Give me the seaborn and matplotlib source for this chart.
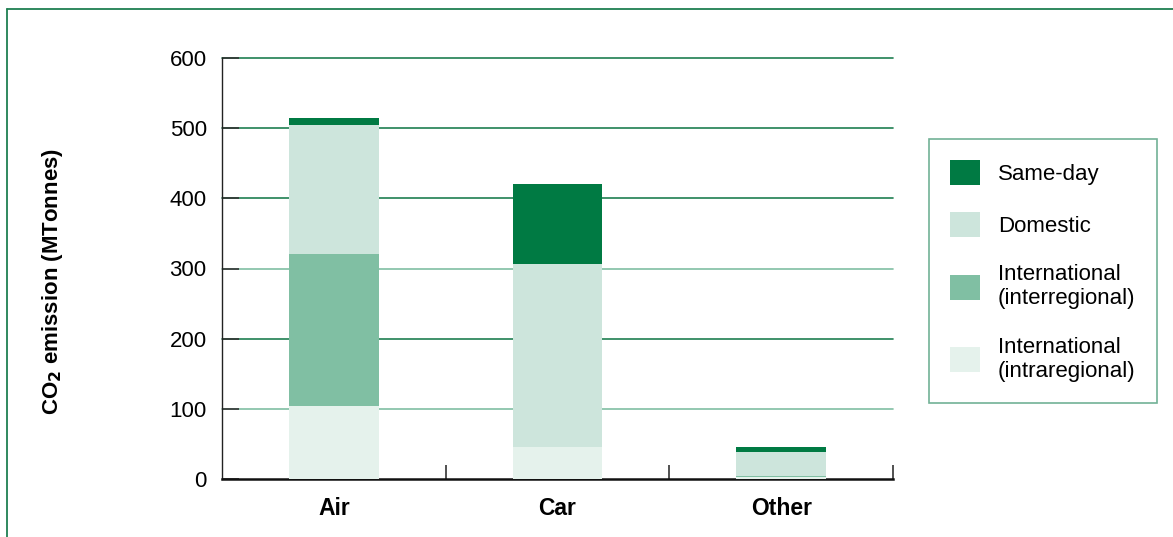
import matplotlib
matplotlib.use("Agg")
import matplotlib.pyplot as plt
from matplotlib.patches import Patch
from matplotlib.lines import Line2D
import seaborn as sns

# ----------------------------------------------------------
# Data (MTonnes CO2)
# ----------------------------------------------------------
modes = ["Air", "Car", "Other"]
intra = [104, 45, 3]       # International (intraregional)
inter = [216, 1, 1]        # International (interregional)
domestic = [184, 260, 34]  # Domestic
sameday = [10, 115, 7]     # Same-day

layers = ["Same-day", "Domestic", "International\n(interregional)",
          "International\n(intraregional)"]
colors = ["#007a43", "#cde5dc", "#80bfa3", "#e5f2ec"]
yticks = [0, 100, 200, 300, 400, 500, 600]

sns.set_theme(style="white")
plt.rcParams["font.family"] = ["Liberation Sans", "DejaVu Sans"]
plt.rcParams["text.color"] = "black"
plt.rcParams["axes.labelcolor"] = "black"
plt.rcParams["xtick.color"] = "black"
plt.rcParams["ytick.color"] = "black"

fig = plt.figure(figsize=(11.73, 5.37), dpi=100)
ax = fig.add_axes([222 / 1173, 1 - 479 / 537, (893 - 222) / 1173, (479 - 58) / 537])

# cumulative totals, drawn from the top layer down so each overlaps the next
c1 = intra
c2 = [a + b for a, b in zip(c1, inter)]
c3 = [a + b for a, b in zip(c2, domestic)]
c4 = [a + b for a, b in zip(c3, sameday)]
for vals, col in zip([c4, c3, c2, c1], colors):
    sns.barplot(x=modes, y=vals, color=col, width=0.4, saturation=1,
                linewidth=0, edgecolor="none", ax=ax, zorder=3)

ax.set_xlim(-0.5, 2.5)
ax.set_ylim(0, 600)
ax.set_yticks(yticks)
ax.set_xlabel("")
ax.set_ylabel(r"CO$_\mathbf{2}$ emission (MTonnes)", fontsize=16,
              fontweight="bold")
ax.yaxis.set_label_coords(-0.234, 0.47)

# gridlines
ax.set_axisbelow(True)
ax.yaxis.grid(True, linewidth=1.2)
for val, gl in zip(yticks, ax.get_ygridlines()):
    gl.set_color("#80bfa3" if val in (100, 300) else "#1f7f52")
    gl.set_clip_on(False)
    if val == 0:
        gl.set_visible(False)

for s in ["top", "right"]:
    ax.spines[s].set_visible(False)
ax.spines["left"].set_color("#222222")
ax.spines["left"].set_linewidth(1.0)
ax.spines["bottom"].set_color("#111111")
ax.spines["bottom"].set_linewidth(1.8)

ax.tick_params(axis="y", which="major", direction="in", length=12, width=1.2,
               color="#333333", labelsize=16, pad=11, left=True)
ax.tick_params(axis="x", which="major", length=0, labelsize=16.5, pad=13)
for lbl in ax.get_xticklabels():
    lbl.set_fontweight("bold")
ax.set_xticks([0.5, 1.5, 2.5], minor=True)
ax.tick_params(axis="x", which="minor", direction="in", length=10, width=1.2,
               color="#333333", bottom=True)

# legend
handles = [Patch(facecolor=c, edgecolor="none") for c in colors]
leg = fig.legend(handles, layers, loc="upper left",
                 bbox_to_anchor=(929 / 1173, 1 - 139 / 537),
                 fontsize=16, frameon=True, fancybox=False,
                 handlelength=1.35, handleheight=1.35, handletextpad=0.8,
                 borderpad=0.95, labelspacing=1.22, borderaxespad=0)
leg.get_frame().set_edgecolor("#4f9e7c")
leg.get_frame().set_linewidth(1.2)

# outer frame
fig.add_artist(Line2D([7 / 1173, 7 / 1173], [0, 1 - 9 / 537],
                      transform=fig.transFigure, color="#1f7f52", linewidth=1.3))
fig.add_artist(Line2D([7 / 1173, 1], [1 - 9 / 537, 1 - 9 / 537],
                      transform=fig.transFigure, color="#1f7f52", linewidth=1.3))

fig.savefig("out.png", dpi=100)
